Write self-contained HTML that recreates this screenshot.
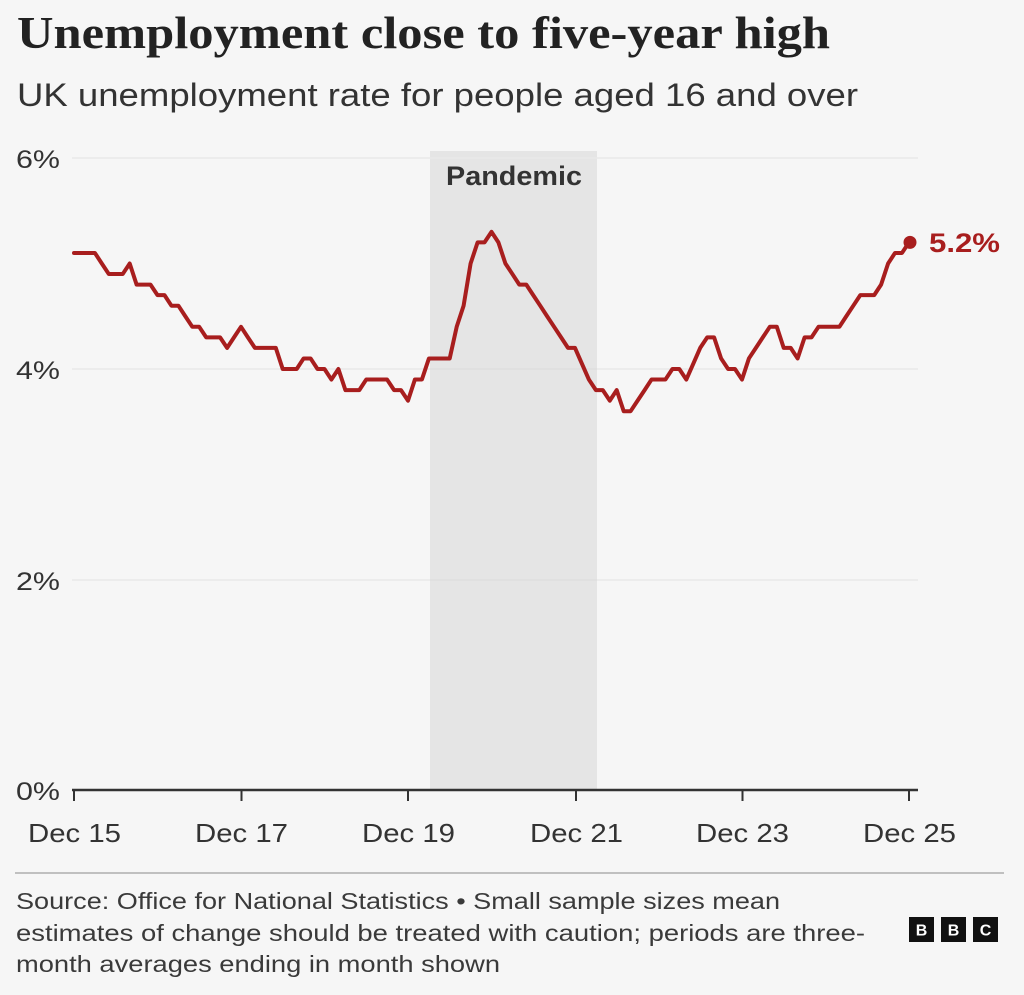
<!DOCTYPE html>
<html>
<head>
<meta charset="utf-8">
<style>
  html, body { margin: 0; padding: 0; background: #f6f6f6; }
  svg { display: block; }
</style>
</head>
<body>
<svg width="1024" height="995" viewBox="0 0 1024 995" xmlns="http://www.w3.org/2000/svg">
  <rect x="0" y="0" width="1024" height="995" fill="#f6f6f6"/>

  <!-- Title -->
  <text x="17" y="48" font-family="'Liberation Serif', serif" font-weight="bold" font-size="45" fill="#222" textLength="813" lengthAdjust="spacingAndGlyphs">Unemployment close to five-year high</text>
  <!-- Subtitle -->
  <text x="17" y="106" font-family="'Liberation Sans', sans-serif" font-size="32" fill="#333" textLength="841" lengthAdjust="spacingAndGlyphs">UK unemployment rate for people aged 16 and over</text>

  <!-- Pandemic shade -->
  <rect x="430" y="151" width="167" height="639" fill="#e5e5e5"/>

  <!-- Gridlines -->
  <g stroke="#e9e9e9" stroke-width="1.5">
    <line x1="72" y1="158" x2="918" y2="158"/>
    <line x1="72" y1="369" x2="918" y2="369"/>
    <line x1="72" y1="580" x2="918" y2="580"/>
  </g>
  <g stroke="#dedede" stroke-width="1.5">
    <line x1="430" y1="369" x2="597" y2="369"/>
    <line x1="430" y1="580" x2="597" y2="580"/>
  </g>

  <!-- Y labels -->
  <g font-family="'Liberation Sans', sans-serif" font-size="25" fill="#333">
    <text x="16" y="168" textLength="44" lengthAdjust="spacingAndGlyphs">6%</text>
    <text x="16" y="379" textLength="44" lengthAdjust="spacingAndGlyphs">4%</text>
    <text x="16" y="590" textLength="44" lengthAdjust="spacingAndGlyphs">2%</text>
    <text x="16" y="800" textLength="44" lengthAdjust="spacingAndGlyphs">0%</text>
  </g>

  <!-- Pandemic label -->
  <text x="446" y="185" font-family="'Liberation Sans', sans-serif" font-weight="bold" font-size="27" fill="#333" textLength="136" lengthAdjust="spacingAndGlyphs">Pandemic</text>

  <!-- Axis -->
  <line x1="72" y1="790" x2="918" y2="790" stroke="#333" stroke-width="2.5"/>
  <g stroke="#333" stroke-width="2">
    <line x1="74" y1="790" x2="74" y2="801"/>
    <line x1="241.5" y1="790" x2="241.5" y2="801"/>
    <line x1="408" y1="790" x2="408" y2="801"/>
    <line x1="576" y1="790" x2="576" y2="801"/>
    <line x1="742.5" y1="790" x2="742.5" y2="801"/>
    <line x1="909" y1="790" x2="909" y2="801"/>
  </g>

  <!-- X labels -->
  <g font-family="'Liberation Sans', sans-serif" font-size="26" fill="#333">
    <text x="28" y="842" textLength="93" lengthAdjust="spacingAndGlyphs">Dec 15</text>
    <text x="195" y="842" textLength="93" lengthAdjust="spacingAndGlyphs">Dec 17</text>
    <text x="362" y="842" textLength="93" lengthAdjust="spacingAndGlyphs">Dec 19</text>
    <text x="530" y="842" textLength="93" lengthAdjust="spacingAndGlyphs">Dec 21</text>
    <text x="696" y="842" textLength="93" lengthAdjust="spacingAndGlyphs">Dec 23</text>
    <text x="863" y="842" textLength="93" lengthAdjust="spacingAndGlyphs">Dec 25</text>
  </g>

  <!-- Data line -->
  <polyline fill="none" stroke="#a81e1e" stroke-width="4" stroke-linejoin="round" stroke-linecap="round"
    points="74,252.95 94.9,252.95 101.8,263.5 108.8,274.05 122.7,274.05 129.7,263.5 136.6,284.6 150.5,284.6 157.5,295.15 164.5,295.15 171.4,305.7 178.4,305.7 185.3,316.25 192.3,326.8 199.2,326.8 206.2,337.35 220.1,337.35 227.1,347.9 234.0,337.35 241.0,326.8 247.9,337.35 254.9,347.9 275.8,347.9 282.7,369 296.7,369 303.6,358.45 310.6,358.45 317.5,369 324.5,369 331.4,379.55 338.4,369 345.4,390.1 359.3,390.1 366.2,379.55 387.1,379.55 394.1,390.1 401.0,390.1 408.0,400.65 414.9,379.55 421.9,379.55 428.9,358.45 449.7,358.45 456.7,326.8 463.6,305.7 470.6,263.5 477.6,242.4 484.5,242.4 491.5,231.85 498.4,242.4 505.4,263.5 512.4,274.05 519.3,284.6 526.3,284.6 533.2,295.15 540.2,305.7 547.1,316.25 554.1,326.8 561.1,337.35 568.0,347.9 575.0,347.9 581.9,363.7 588.9,379.55 595.9,390.1 602.8,390.1 609.8,400.65 616.7,390.1 623.7,411.2 630.6,411.2 637.6,400.65 644.6,390.1 651.5,379.55 665.4,379.55 672.4,369 679.3,369 686.3,379.55 693.3,363.7 700.2,347.9 707.2,337.35 714.1,337.35 721.1,358.45 728.1,369 735.0,369 742.0,379.55 748.9,358.45 755.9,347.9 762.8,337.35 769.8,326.8 776.8,326.8 783.7,347.9 790.7,347.9 797.6,358.45 804.6,337.35 811.5,337.35 818.5,326.8 839.4,326.8 846.3,316.25 853.3,305.7 860.3,295.15 874.2,295.15 881.1,284.6 888.1,263.5 895.0,252.95 902.0,252.95 909.0,242.4"/>
  <circle cx="910" cy="242.4" r="6.5" fill="#a81e1e"/>
  <text x="929" y="252" font-family="'Liberation Sans', sans-serif" font-weight="bold" font-size="27" fill="#a81e1e" textLength="71" lengthAdjust="spacingAndGlyphs">5.2%</text>

  <!-- Footer separator -->
  <line x1="15" y1="873" x2="1004" y2="873" stroke="#adadad" stroke-width="1.5"/>

  <!-- Footer text -->
  <g font-family="'Liberation Sans', sans-serif" font-size="23" fill="#3a3a3a">
    <text x="16" y="909" textLength="764" lengthAdjust="spacingAndGlyphs">Source: Office for National Statistics • Small sample sizes mean</text>
    <text x="16" y="941" textLength="849" lengthAdjust="spacingAndGlyphs">estimates of change should be treated with caution; periods are three-</text>
    <text x="16" y="972" textLength="484" lengthAdjust="spacingAndGlyphs">month averages ending in month shown</text>
  </g>

  <!-- BBC logo -->
  <g>
    <rect x="909" y="917" width="25" height="25" fill="#111"/>
    <rect x="941" y="917" width="25" height="25" fill="#111"/>
    <rect x="973" y="917" width="25" height="25" fill="#111"/>
    <g font-family="'Liberation Sans', sans-serif" font-weight="bold" font-size="16" fill="#fff" text-anchor="middle">
      <text x="921.5" y="935.5">B</text>
      <text x="953.5" y="935.5">B</text>
      <text x="985.5" y="935.5">C</text>
    </g>
  </g>
</svg>
</body>
</html>
